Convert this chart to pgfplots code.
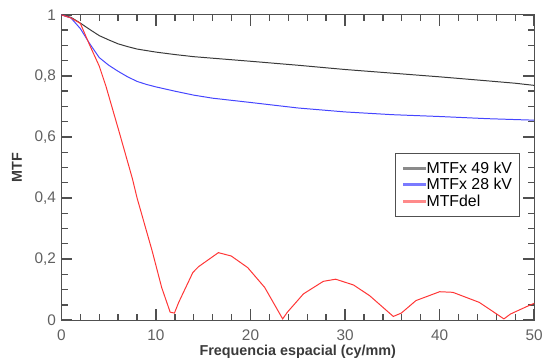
\documentclass[border=0pt]{standalone}
\usepackage{pgfplots}
\pgfplotsset{compat=1.18}
\usepackage{fontspec}
\setmainfont{Liberation Sans}
\definecolor{axgray}{HTML}{505050}
\definecolor{tgray}{HTML}{606060}
\definecolor{cblack}{HTML}{3A3A3A}
\definecolor{cblue}{HTML}{4545FF}
\definecolor{cred}{HTML}{FF3535}
\definecolor{lblack}{HTML}{8A8A8A}
\definecolor{lblue}{HTML}{7A7AFF}
\definecolor{lred}{HTML}{FF8A8A}
\begin{document}
\begin{tikzpicture}
\begin{axis}[
  at={(0,0)}, anchor=south west,
  scale only axis, width=477pt, height=308pt,
  xmin=0, xmax=50, ymin=0, ymax=1,
  xtick={0,10,20,30,40,50}, ytick={0,0.2,0.4,0.6,0.8,1},
  minor x tick num=4, minor y tick num=3,
  tick align=inside,
  major tick length=11pt, minor tick length=6.5pt,
  every tick/.append style={draw=axgray, line width=1.4pt},
  clip=false,
  axis line style={axgray, line width=1.2pt},
  tick label style={font=\fontsize{15.5}{17}\selectfont, text=tgray},
  xticklabel style={yshift=-6pt},
  yticklabel style={xshift=-2pt},
  /pgf/number format/use comma,
  /pgf/number format/assume math mode=true,
  xlabel={\textbf{Frequencia espacial (cy/mm)}},
  ylabel={\textbf{MTF}},
  label style={font=\fontsize{14.5}{16}\selectfont, text=cblack},
  xlabel style={yshift=2pt},
  ylabel style={yshift=6pt},
  legend style={at={(0.971,0.549)}, anchor=north east, draw=axgray, line width=1pt,
    font=\fontsize{16}{18}\selectfont, row sep=1.5pt, inner xsep=7pt, inner ysep=8pt,
    nodes={inner sep=1pt}},
  legend cell align=left,
  legend image code/.code={\fill[#1] (0pt,-1pt) rectangle (22pt,1pt);},
]
\addplot[cblack, line width=1pt, forget plot] coordinates {
(0,1) (1,0.992) (2,0.973) (3,0.952) (4,0.932) (5,0.918) (6,0.905) (7,0.896) (8,0.888)
(10,0.878) (12,0.870) (14,0.863) (16,0.858) (18,0.853) (20,0.848) (25,0.835)
(30,0.821) (35,0.809) (40,0.797) (45,0.784) (48,0.776) (50,0.769)};
\addplot[cblue, line width=1pt, forget plot] coordinates {
(0,1) (1,0.99) (2,0.955) (3,0.905) (4,0.86) (5,0.835) (6,0.815) (7,0.797) (8,0.782)
(9,0.772) (10,0.764) (11,0.757) (12,0.750) (14,0.737) (16,0.727) (18,0.720)
(20,0.713) (25,0.695) (30,0.682) (35,0.673) (40,0.667) (45,0.660) (50,0.655)};
\addplot[cred, line width=1pt, forget plot] coordinates {
(0,1) (1,0.99) (2,0.972) (3,0.90) (4,0.832) (4.7,0.767) (6.1,0.617) (7.5,0.464)
(8,0.40) (9.6,0.226) (10.6,0.107) (11.5,0.026) (11.95,0.023) (12.4,0.058)
(13.9,0.156) (14.5,0.175) (16.6,0.221) (17.96,0.21) (19.7,0.172) (21.5,0.107)
(23.4,0.004) (23.9,0.026) (25.6,0.086) (27.7,0.127) (29.0,0.134) (30.9,0.115)
(32.6,0.08) (35.1,0.012) (35.95,0.023) (37.5,0.064) (40.0,0.093) (41.4,0.091)
(44.2,0.058) (46.8,0.004) (47.5,0.02) (49.4,0.047) (50,0.055)};
\addlegendimage{lblack}\addlegendentry{MTFx 49 kV}
\addlegendimage{lblue}\addlegendentry{MTFx 28 kV}
\addlegendimage{lred}\addlegendentry{MTFdel}
\end{axis}
\path (-62pt,-41pt) (484pt,323pt);
\end{tikzpicture}
\end{document}
